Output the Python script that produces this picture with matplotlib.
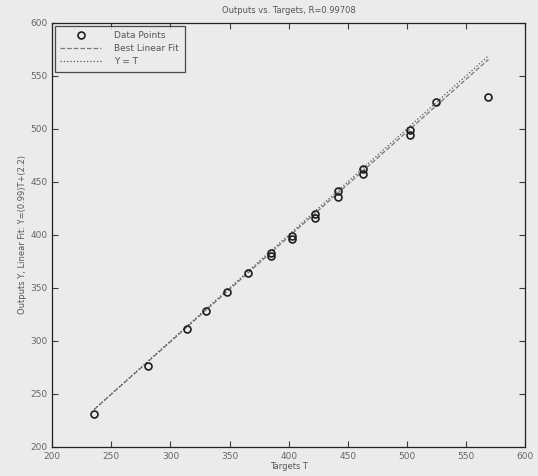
import numpy as np
import matplotlib.pyplot as plt

# 目標值 T 與輸出 Y
targets = [235.6, 281, 314, 330, 348, 366, 385, 385, 403, 403,
           422, 422, 442, 442, 463, 463, 503, 503, 525, 569]
outputs = [231, 276, 311, 328, 346, 364, 380, 383, 396, 399,
           416, 420, 436, 441, 457, 462, 494, 499, 525, 530]

fit_m = 0.99
fit_b = 2.2
r_value = 0.99708

bg = '#ebebeb'
ink = '#3a3a3a'

fig = plt.figure(figsize=(5.38, 4.76), dpi=100, facecolor=bg)
ax = fig.add_axes([0.097, 0.061, 0.879, 0.891], facecolor=bg)

t_rng = np.array([min(targets), max(targets)])

ax.plot(targets, outputs, 'o', mfc='none', mec='#1e1e1e', ms=5, mew=1.2,
        label='Data Points', zorder=3)
ax.plot(t_rng, fit_m * t_rng + fit_b, '--', color='#777777', lw=0.9,
        label='Best Linear Fit')
ax.plot(t_rng, t_rng, ':', color='#555555', lw=0.9, label='Y = T')

ax.set_xlim(200, 600)
ax.set_ylim(200, 600)
ax.set_xticks(np.arange(200, 601, 50))
ax.set_yticks(np.arange(200, 601, 50))

ax.tick_params(direction='in', top=True, right=True, length=4,
               labelsize=6.5, colors=ink, labelcolor='#666666')
for s in ax.spines.values():
    s.set_color('#222222')
    s.set_linewidth(0.9)

ax.set_title(f'Outputs vs. Targets, R={r_value}', fontsize=6, color='#555555', pad=7)
ax.set_xlabel('Targets T', fontsize=6, color='#555555', labelpad=1)
ax.set_ylabel(f'Outputs Y, Linear Fit: Y=({fit_m})T+({fit_b})', fontsize=6,
              color='#555555', labelpad=2)

leg = ax.legend(loc='upper left', fontsize=6.5, frameon=True, fancybox=False,
                edgecolor='#222222', facecolor=bg, handlelength=4.5,
                handletextpad=1.5, borderpad=0.6,
                borderaxespad=0.3, labelspacing=0.45)
leg.get_frame().set_linewidth(0.9)
for txt in leg.get_texts():
    txt.set_color('#555555')

plt.savefig('out.png', dpi=100, facecolor=bg)
